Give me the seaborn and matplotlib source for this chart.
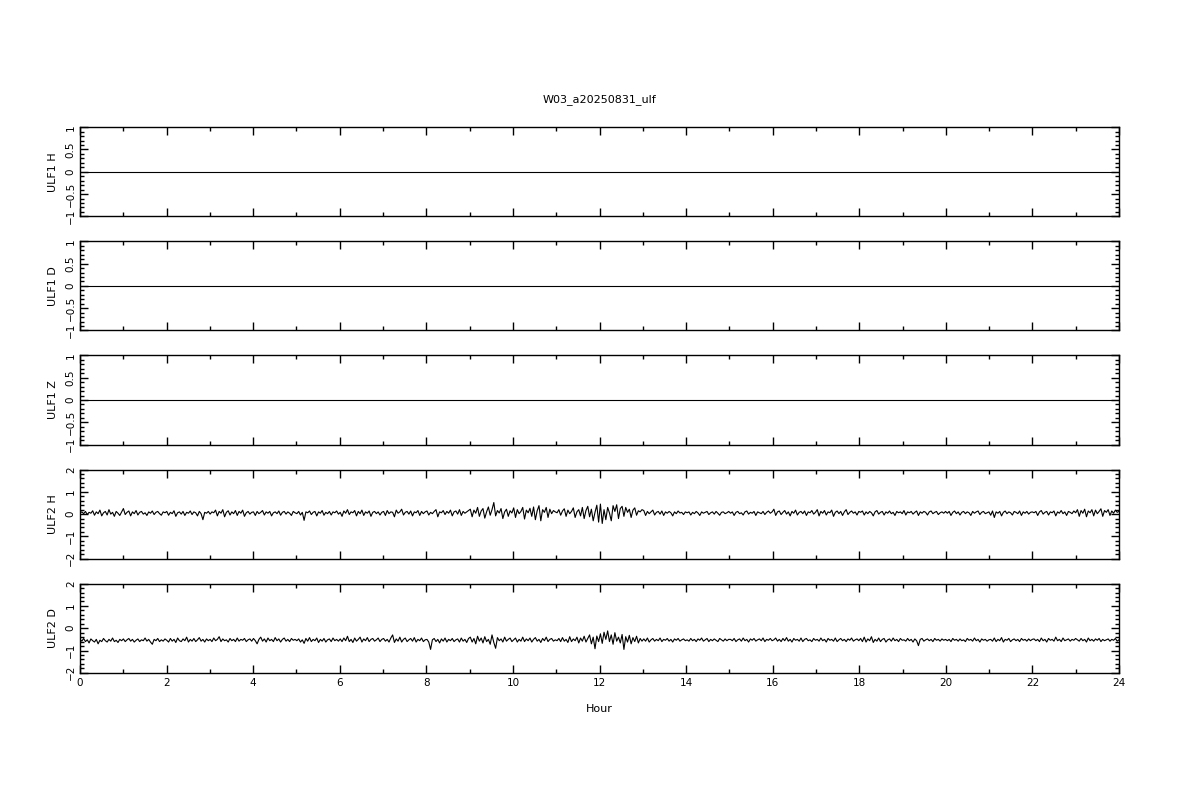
import numpy as np
import pandas as pd
import matplotlib
matplotlib.use("Agg")
import matplotlib.pyplot as plt
import seaborn as sns
from matplotlib.ticker import MultipleLocator, FuncFormatter

title = "W03_a20250831_ulf"
panel_labels = ["ULF1 H", "ULF1 D", "ULF1 Z", "ULF2 H", "ULF2 D"]
panel_limits = [1, 1, 1, 2, 2]

# ULF2 H, 24 samples per hour
ulf2_h = [
    0.05, 0.1, 0.02, 0.12, -0.02, 0.08, 0.04, 0.15, -0.05, 0.1, 0.02, 0.18, -0.08, 0.06, 0.12, -0.04, 0.2, 0.0, 0.08, -0.1, 0.12, 0.04, -0.06, 0.1,
    0.25, -0.02, 0.08, 0.14, -0.08, 0.1, 0.02, 0.16, -0.04, 0.08, 0.12, 0.0, 0.06, -0.06, 0.1, 0.04, 0.14, -0.02, 0.08, 0.12, 0.02, -0.05, 0.1, 0.06,
    0.12, -0.05, 0.08, 0.02, 0.15, -0.1, 0.06, 0.1, 0.0, 0.12, -0.06, 0.08, 0.04, 0.14, -0.02, 0.1, 0.06, -0.08, 0.12, 0.02, -0.25, 0.08, 0.04, 0.12,
    0.0, 0.1, 0.06, 0.18, -0.08, 0.12, 0.04, 0.2, -0.12, 0.08, 0.15, -0.04, 0.1, 0.02, 0.16, -0.06, 0.12, 0.04, 0.18, -0.1, 0.06, 0.12, 0.0, 0.08,
    0.1, -0.06, 0.12, 0.02, 0.08, 0.16, -0.04, 0.1, 0.04, 0.12, -0.08, 0.06, 0.1, 0.02, 0.14, -0.05, 0.08, 0.12, 0.0, 0.1, 0.04, -0.06, 0.12, 0.06,
    0.02, 0.12, -0.04, 0.08, -0.28, 0.1, 0.06, 0.14, -0.02, 0.08, 0.12, -0.08, 0.1, 0.04, 0.16, -0.05, 0.08, 0.02, 0.12, -0.04, 0.1, 0.06, 0.14, 0.0,
    0.08, -0.1, 0.14, 0.04, 0.2, -0.02, 0.1, 0.06, 0.16, -0.08, 0.12, 0.02, 0.18, -0.06, 0.1, 0.04, 0.14, -0.1, 0.08, 0.12, 0.02, 0.1, -0.04, 0.08,
    0.12, -0.06, 0.16, 0.02, 0.1, 0.08, -0.12, 0.18, 0.04, 0.1, 0.22, -0.04, 0.08, 0.12, 0.0, 0.14, -0.08, 0.1, 0.06, 0.16, -0.06, 0.12, 0.02, 0.1,
    0.14, -0.04, 0.08, 0.02, 0.12, 0.2, -0.12, 0.1, 0.06, 0.16, -0.02, 0.12, 0.04, 0.18, -0.08, 0.1, 0.14, 0.0, 0.2, -0.06, 0.12, 0.04, 0.1, 0.16,
    0.22, -0.12, 0.18, 0.04, 0.3, -0.1, 0.14, 0.25, -0.18, 0.1, 0.32, -0.05, 0.2, 0.52, -0.08, 0.16, 0.05, 0.25, -0.2, 0.1, 0.22, -0.1, 0.15, 0.05,
    0.28, -0.15, 0.2, 0.02, 0.12, 0.3, -0.22, 0.18, 0.06, 0.26, -0.1, 0.32, -0.25, 0.15, 0.38, -0.3, 0.2, 0.08, 0.3, -0.15, 0.22, 0.02, 0.16, 0.1,
    0.06, 0.2, -0.05, 0.14, 0.24, -0.1, 0.18, 0.02, 0.12, 0.28, -0.15, 0.1, 0.2, -0.08, 0.3, -0.2, 0.16, 0.35, -0.12, 0.22, -0.3, 0.08, 0.4, -0.36,
    0.45, -0.42, 0.2, -0.25, 0.3, 0.05, -0.3, 0.38, 0.12, 0.42, -0.2, 0.25, 0.35, -0.1, 0.3, 0.08, 0.22, -0.15, 0.18, 0.28, -0.05, 0.15, 0.1, 0.2,
    0.16, -0.06, 0.12, 0.02, 0.1, 0.18, -0.04, 0.08, 0.12, 0.0, 0.14, -0.06, 0.1, 0.04, 0.12, 0.06, -0.08, 0.1, 0.02, 0.14, 0.05, 0.08, -0.02, 0.1,
    0.06, 0.1, -0.04, 0.08, 0.02, 0.12, 0.05, -0.06, 0.1, 0.04, 0.08, 0.12, -0.02, 0.06, 0.1, 0.0, 0.12, 0.04, -0.05, 0.08, 0.1, 0.02, 0.06, 0.12,
    0.04, 0.1, -0.06, 0.08, 0.12, 0.02, 0.06, -0.04, 0.1, 0.14, 0.0, 0.08, 0.04, 0.12, -0.06, 0.1, 0.06, 0.02, 0.12, -0.02, 0.08, 0.14, 0.04, 0.1,
    0.22, -0.06, 0.1, 0.14, -0.02, 0.08, 0.16, 0.0, 0.1, -0.08, 0.12, 0.04, 0.18, -0.04, 0.08, 0.12, 0.02, 0.14, -0.06, 0.1, 0.06, 0.16, 0.0, 0.08,
    0.2, -0.08, 0.12, 0.04, 0.16, -0.04, 0.1, 0.06, 0.18, -0.1, 0.08, 0.14, 0.02, 0.12, -0.06, 0.1, 0.2, -0.02, 0.08, 0.14, 0.04, 0.1, -0.04, 0.12,
    0.08, 0.14, -0.04, 0.1, 0.02, 0.12, 0.06, -0.08, 0.1, 0.16, 0.0, 0.08, 0.12, -0.04, 0.1, 0.04, 0.14, 0.02, 0.08, -0.06, 0.12, 0.06, 0.1, 0.02,
    0.16, -0.04, 0.1, 0.06, 0.12, 0.0, 0.08, 0.14, -0.06, 0.1, 0.04, 0.12, 0.08, -0.04, 0.1, 0.14, 0.02, 0.08, 0.12, -0.02, 0.06, 0.1, 0.04, 0.12,
    0.04, 0.12, -0.06, 0.08, 0.14, 0.02, 0.1, -0.04, 0.08, 0.12, 0.02, 0.1, 0.06, -0.06, 0.12, 0.04, 0.1, 0.14, -0.02, 0.08, 0.12, 0.02, 0.06, 0.1,
    -0.05, 0.14, -0.15, 0.1, 0.04, 0.12, -0.08, 0.08, 0.14, 0.02, 0.1, 0.06, -0.04, 0.12, 0.08, 0.02, 0.14, -0.06, 0.1, 0.04, 0.12, 0.0, 0.08, 0.1,
    0.06, 0.12, -0.06, 0.1, 0.16, 0.0, 0.08, 0.12, -0.04, 0.1, 0.06, 0.14, -0.08, 0.1, 0.04, 0.16, 0.02, 0.1, -0.06, 0.12, 0.08, 0.02, 0.14, 0.06,
    0.2, -0.1, 0.16, 0.04, 0.22, -0.12, 0.14, 0.06, 0.2, -0.08, 0.18, 0.02, 0.12, 0.24, -0.1, 0.16, 0.08, 0.2, -0.06, 0.14, 0.04, 0.18, 0.08, 0.12,
]

# ULF2 D, 24 samples per hour
ulf2_d = [
    -0.5, -0.58, -0.46, -0.6, -0.52, -0.66, -0.48, -0.56, -0.62, -0.5, -0.7, -0.54, -0.6, -0.46, -0.56, -0.62, -0.5, -0.58, -0.44, -0.6, -0.54, -0.64, -0.5, -0.56,
    -0.48, -0.6, -0.52, -0.46, -0.58, -0.5, -0.62, -0.54, -0.48, -0.6, -0.52, -0.56, -0.44, -0.58, -0.5, -0.62, -0.72, -0.5, -0.56, -0.46, -0.6, -0.52, -0.58, -0.48,
    -0.54, -0.62, -0.46, -0.58, -0.5, -0.64, -0.44, -0.56, -0.6, -0.48, -0.56, -0.4, -0.62, -0.5, -0.58, -0.46, -0.6, -0.52, -0.42, -0.58, -0.5, -0.62, -0.48, -0.56,
    -0.5, -0.6, -0.44, -0.56, -0.5, -0.38, -0.6, -0.48, -0.56, -0.52, -0.62, -0.46, -0.56, -0.5, -0.6, -0.44, -0.58, -0.5, -0.54, -0.46, -0.6, -0.52, -0.48, -0.58,
    -0.46, -0.56, -0.7, -0.5, -0.4, -0.58, -0.48, -0.62, -0.44, -0.56, -0.5, -0.6, -0.42, -0.56, -0.48, -0.62, -0.5, -0.44, -0.58, -0.5, -0.6, -0.46, -0.54, -0.5,
    -0.56, -0.48, -0.62, -0.52, -0.68, -0.46, -0.58, -0.42, -0.6, -0.5, -0.56, -0.44, -0.64, -0.5, -0.58, -0.46, -0.62, -0.52, -0.48, -0.6, -0.44, -0.56, -0.5, -0.58,
    -0.48, -0.6, -0.44, -0.56, -0.36, -0.6, -0.5, -0.64, -0.44, -0.58, -0.5, -0.4, -0.62, -0.48, -0.56, -0.42, -0.6, -0.5, -0.46, -0.58, -0.52, -0.44, -0.6, -0.5,
    -0.46, -0.58, -0.5, -0.62, -0.44, -0.3, -0.64, -0.48, -0.58, -0.4, -0.62, -0.5, -0.44, -0.6, -0.52, -0.46, -0.58, -0.42, -0.62, -0.5, -0.56, -0.44, -0.6, -0.52,
    -0.5, -0.62, -0.95, -0.52, -0.46, -0.6, -0.5, -0.66, -0.48, -0.58, -0.44, -0.62, -0.5, -0.56, -0.46, -0.6, -0.52, -0.48, -0.62, -0.44, -0.58, -0.5, -0.64, -0.46,
    -0.4, -0.62, -0.46, -0.7, -0.36, -0.58, -0.44, -0.66, -0.38, -0.6, -0.5, -0.72, -0.3, -0.64, -0.9, -0.42, -0.56, -0.48, -0.62, -0.4, -0.58, -0.5, -0.44, -0.6,
    -0.52, -0.44, -0.62, -0.5, -0.58, -0.4, -0.6, -0.48, -0.56, -0.44, -0.62, -0.5, -0.42, -0.58, -0.5, -0.64, -0.46, -0.56, -0.4, -0.6, -0.5, -0.46, -0.58, -0.52,
    -0.56, -0.46, -0.6, -0.42, -0.58, -0.5, -0.64, -0.38, -0.6, -0.48, -0.56, -0.4, -0.66, -0.44, -0.58, -0.36, -0.62, -0.46, -0.3, -0.7, -0.4, -0.92, -0.35, -0.6,
    -0.25, -0.68, -0.18, -0.5, -0.12, -0.6, -0.3, -0.72, -0.2, -0.58, -0.4, -0.66, -0.28, -0.95, -0.38, -0.62, -0.32, -0.7, -0.42, -0.6, -0.36, -0.66, -0.46, -0.58,
    -0.48, -0.58, -0.44, -0.62, -0.52, -0.46, -0.58, -0.5, -0.56, -0.44, -0.6, -0.5, -0.54, -0.46, -0.58, -0.5, -0.62, -0.48, -0.54, -0.46, -0.58, -0.52, -0.48, -0.56,
    -0.52, -0.58, -0.46, -0.56, -0.5, -0.6, -0.48, -0.54, -0.44, -0.58, -0.52, -0.46, -0.6, -0.5, -0.56, -0.48, -0.54, -0.6, -0.46, -0.52, -0.58, -0.48, -0.56, -0.5,
    -0.5, -0.56, -0.46, -0.6, -0.52, -0.48, -0.58, -0.44, -0.56, -0.5, -0.62, -0.48, -0.54, -0.46, -0.58, -0.52, -0.48, -0.56, -0.44, -0.6, -0.5, -0.54, -0.46, -0.56,
    -0.52, -0.44, -0.58, -0.5, -0.6, -0.46, -0.56, -0.42, -0.58, -0.5, -0.62, -0.46, -0.54, -0.5, -0.58, -0.44, -0.6, -0.5, -0.46, -0.56, -0.52, -0.6, -0.46, -0.54,
    -0.5, -0.58, -0.44, -0.56, -0.5, -0.62, -0.46, -0.54, -0.5, -0.58, -0.44, -0.6, -0.52, -0.46, -0.56, -0.5, -0.6, -0.48, -0.54, -0.44, -0.58, -0.52, -0.48, -0.56,
    -0.46, -0.6, -0.4, -0.62, -0.48, -0.56, -0.38, -0.64, -0.5, -0.58, -0.44, -0.6, -0.5, -0.46, -0.62, -0.52, -0.48, -0.58, -0.44, -0.56, -0.5, -0.6, -0.46, -0.54,
    -0.52, -0.58, -0.46, -0.56, -0.5, -0.62, -0.48, -0.56, -0.78, -0.5, -0.46, -0.58, -0.52, -0.48, -0.56, -0.5, -0.6, -0.46, -0.54, -0.5, -0.58, -0.48, -0.54, -0.5,
    -0.56, -0.5, -0.6, -0.46, -0.54, -0.5, -0.58, -0.48, -0.56, -0.52, -0.6, -0.46, -0.54, -0.5, -0.58, -0.44, -0.56, -0.5, -0.62, -0.48, -0.54, -0.5, -0.58, -0.52,
    -0.5, -0.58, -0.44, -0.6, -0.5, -0.56, -0.42, -0.62, -0.5, -0.54, -0.46, -0.6, -0.52, -0.48, -0.56, -0.5, -0.6, -0.46, -0.54, -0.5, -0.58, -0.48, -0.56, -0.5,
    -0.48, -0.56, -0.5, -0.6, -0.44, -0.56, -0.5, -0.62, -0.46, -0.54, -0.5, -0.58, -0.4, -0.56, -0.5, -0.6, -0.44, -0.56, -0.52, -0.48, -0.58, -0.5, -0.54, -0.46,
    -0.52, -0.58, -0.46, -0.56, -0.5, -0.62, -0.44, -0.56, -0.5, -0.58, -0.48, -0.54, -0.46, -0.6, -0.5, -0.56, -0.52, -0.48, -0.58, -0.5, -0.54, -0.46, -0.58, -0.52,
]

# ULF1 channels are flat at zero all day
ulf1_h = [0.0] * len(ulf2_h)
ulf1_d = [0.0] * len(ulf2_h)
ulf1_z = [0.0] * len(ulf2_h)

hours = np.linspace(0, 24, len(ulf2_h))

df = pd.DataFrame({
    "Hour": hours,
    "ULF1 H": ulf1_h,
    "ULF1 D": ulf1_d,
    "ULF1 Z": ulf1_z,
    "ULF2 H": ulf2_h,
    "ULF2 D": ulf2_d,
})


def tick_fmt(v, pos):
    return ("%g" % round(v, 3)).replace("-", "\u2212")


sns.set_style("ticks")
plt.rcParams["font.family"] = ["DejaVu Sans"]
plt.rcParams["text.color"] = "black"
plt.rcParams["axes.labelcolor"] = "black"
plt.rcParams["xtick.color"] = "black"
plt.rcParams["ytick.color"] = "black"

fig, axes = plt.subplots(5, 1, figsize=(12, 8), dpi=100, sharex=True)
fig.subplots_adjust(left=0.0667, right=0.9325, top=0.841, bottom=0.159, hspace=0.28)

for ax, name, lim in zip(axes, panel_labels, panel_limits):
    sns.lineplot(data=df, x="Hour", y=name, ax=ax, color="black", linewidth=0.8)
    ax.set_xlim(0, 24)
    ax.set_ylim(-lim, lim)
    ax.set_ylabel(name, fontsize=8, labelpad=6)
    ax.xaxis.set_major_locator(MultipleLocator(2))
    ax.xaxis.set_minor_locator(MultipleLocator(1))
    if lim == 1:
        ax.yaxis.set_major_locator(MultipleLocator(0.5))
        ax.yaxis.set_minor_locator(MultipleLocator(0.1))
    else:
        ax.yaxis.set_major_locator(MultipleLocator(1))
        ax.yaxis.set_minor_locator(MultipleLocator(0.2))
    ax.yaxis.set_major_formatter(FuncFormatter(tick_fmt))
    ax.tick_params(which="both", direction="in", top=True, right=True,
                   labelsize=7.5, width=1, color="black", labelcolor="black")
    ax.tick_params(which="major", length=6)
    ax.tick_params(which="minor", length=3)
    ax.tick_params(axis="y", labelrotation=90, pad=3)
    for lbl in ax.get_yticklabels():
        lbl.set_va("center")
    for sp in ax.spines.values():
        sp.set_linewidth(1)
        sp.set_color("black")
    ax.set_xlabel("")

axes[-1].set_xlabel("Hour", fontsize=8, labelpad=12, color="black")
axes[0].set_title(title, fontsize=8, pad=18, color="black")

fig.savefig("out.png", dpi=100)
